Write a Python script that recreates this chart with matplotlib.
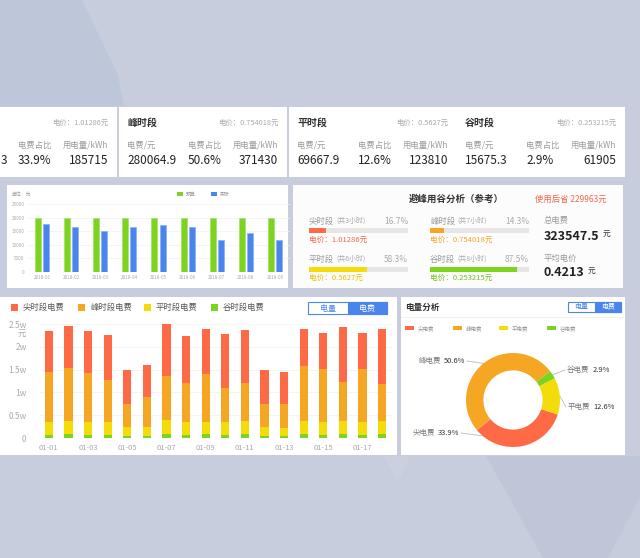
import numpy as np
import matplotlib.pyplot as plt
from matplotlib.patches import Rectangle, Polygon

plt.rcParams['font.family'] = ['Noto Sans CJK SC', 'DejaVu Sans']

W, H = 640, 558

# ---- 数据 ----
# 分时段卡片（第一张卡片只露出右侧部分）
card_names = ['尖时段', '峰时段', '平时段', '谷时段']
card_price = ['1.01286', '0.754018', '0.5627', '0.253215']
card_fee = ['3', '280064.9', '69667.9', '15675.3']
card_ratio = ['33.9%', '50.6%', '12.6%', '2.9%']
card_kwh = ['185715', '371430', '123810', '61905']

# 月度对比
months = ['2018-01', '2018-02', '2018-03', '2018-04', '2018-05',
          '2018-06', '2018-07', '2018-08', '2018-09']
budget = [20000, 20000, 20000, 20000, 20000, 20000, 20000, 20000, 20000]
actual = [17600, 16700, 15200, 16700, 17300, 16400, 11800, 14200, 11800]
month_legend = ['预算', '实际']

# 避峰用谷
seg_hours = [3, 7, 6, 8]
seg_pct = [16.7, 14.3, 58.3, 87.5]
saving = '229963'
total_fee = '323547.5'
avg_price = '0.4213'

# 每日分时电费
days = ['01-%02d' % d for d in range(1, 19)]
fee_valley = [660, 800, 660, 660, 510, 510, 800, 660, 800, 660, 800, 440, 440, 800, 660, 800, 660, 800]
fee_flat = [2920, 3000, 2920, 2850, 1830, 1980, 3150, 2920, 2780, 2920, 2930, 1900, 1830, 2930, 2850, 3000, 2850, 2930]
fee_peak = [10890, 11620, 10600, 9210, 5120, 6570, 9650, 8550, 10460, 7460, 8260, 5120, 5190, 11990, 11620, 8550, 11620, 8110]
fee_sharp = [9070, 9140, 9210, 9870, 7450, 6880, 11350, 10310, 9860, 11840, 11690, 7530, 7010, 8110, 7900, 11990, 7900, 11990]
stack_legend = ['尖时段电费', '峰时段电费', '平时段电费', '谷时段电费']
y_ticks = [0, 5000, 10000, 15000, 20000, 25000]
y_labels = ['0', '0.5w', '1w', '1.5w', '2w', '2.5w']

# 电量分析
pie_names = ['尖电费', '峰电费', '平电费', '谷电费']
pie_pct = [33.9, 50.6, 12.6, 2.9]

RED, ORANGE, YELLOW, GREEN = '#fe6a46', '#f5a623', '#f3dc0a', '#7ed321'
BLUE = '#4a85ee'
seg_colors = [RED, ORANGE, YELLOW, GREEN]
price_colors = ['#f5684c', '#f5a623', '#e3c400', '#72c71c']

fig = plt.figure(figsize=(W / 100, H / 100), dpi=100)
fig.patch.set_facecolor('#c7cddc')
bg = fig.add_axes([0, 0, 1, 1])
bg.set_xlim(0, W)
bg.set_ylim(H, 0)
bg.axis('off')


def ax_px(x0, y0, x1, y1):
    a = fig.add_axes([x0 / W, 1 - y1 / H, (x1 - x0) / W, (y1 - y0) / H])
    a.set_facecolor('none')
    return a


def panel(x0, y0, x1, y1, fc='white'):
    bg.add_patch(Rectangle((x0, y0), x1 - x0, y1 - y0, fc=fc, ec='none', zorder=1))


def txt(x, y, s, size, color='#333333', ha='left', weight='normal', **kw):
    return bg.text(x, y, s, fontsize=size, color=color, ha=ha, va='center',
                   fontweight=weight, zorder=3, **kw)


# 背景多边形
bg.add_patch(Polygon([(0, 0), (82, 0), (118, 75), (124, 106), (0, 106)], fc='#bec7d9', ec='none', zorder=0))
bg.add_patch(Polygon([(486, 456), (640, 456), (640, 558), (543, 558)], fc='#bec6d8', ec='none', zorder=0))
bg.add_patch(Polygon([(608, 558), (640, 497), (640, 558)], fc='#c6ccdb', ec='none', zorder=0))
bg.add_patch(Polygon([(384, 456), (410, 456), (398, 483)], fc='#cbd0de', ec='none', zorder=0))

# ---- 顶部卡片 ----
card_left = [-51, 119, 289, 457]
for i, x0 in enumerate(card_left):
    panel(x0, 107, x0 + 168, 177)
    if i > 0:
        txt(x0 + 8, 123, card_names[i], 7.2, weight='bold')
        txt(x0 + 8, 145, '电费/元', 6, color='#9a9a9a')
        txt(x0 + 8, 161, card_fee[i], 8.5, color='#222222')
    else:
        txt(1, 161, card_fee[i], 8.5, color='#222222')
    txt(x0 + 159, 123, '电价：' + card_price[i] + '元', 5.3, color='#aaaaaa', ha='right')
    txt(x0 + 69, 145, '电费占比', 6, color='#9a9a9a')
    txt(x0 + 159, 145, '用电量/kWh', 6, color='#9a9a9a', ha='right')
    txt(x0 + 69, 161, card_ratio[i], 8.5, color='#222222')
    txt(x0 + 159, 161, card_kwh[i], 8.5, color='#222222', ha='right')

# ---- 月度柱状图 ----
panel(7, 185, 288, 288)
txt(12, 194, '单位：元', 3.5, color='#999999')
for x0, c, lab in zip([177, 211], [GREEN, BLUE], month_legend):
    bg.add_patch(Rectangle((x0, 192), 6, 4, fc=c, ec='none', zorder=3))
    txt(x0 + 9, 194, lab, 3.5, color='#999999')

ma = ax_px(27.5, 204, 289.5, 272)
xm = np.arange(len(months))
ma.bar(xm - 0.138, budget, 0.207, color=GREEN, edgecolor='#a6e36a', linewidth=0.6)
ma.bar(xm + 0.138, actual, 0.207, color=BLUE, edgecolor='#8fb2f5', linewidth=0.6)
ma.set_xlim(-0.5, len(months) - 0.5)
ma.set_ylim(0, 25000)
ma.set_yticks([0, 5000, 10000, 15000, 20000, 25000])
ma.set_xticks(xm)
ma.set_xticklabels(months)
ma.tick_params(length=0, labelsize=3.3, colors='#aaaaaa', pad=2)
ma.yaxis.grid(True, color='#f2f2f2', lw=0.5)
ma.set_axisbelow(True)
for s in ma.spines.values():
    s.set_visible(False)

# ---- 避峰用谷分析 ----
panel(293, 185, 623, 288, fc='#fcfcfc')
txt(456, 199, '避峰用谷分析（参考）', 6.8, color='#333333', ha='center', weight='bold')
txt(535, 199, '使用后省 ' + saving + '元', 6, color='#f5684c')
seg_pos = [(309, 221), (430, 221), (309, 259), (430, 259)]
for i, (x0, y0) in enumerate(seg_pos):
    t = txt(x0, y0, card_names[i], 6, color='#999999')
    bg.annotate('(共%d小时)' % seg_hours[i], xy=(1, 0.5), xycoords=t, xytext=(1.5, 0),
                textcoords='offset points', fontsize=5, color='#aaaaaa', va='center', zorder=3)
    txt(x0 + 99, y0, '%.1f%%' % seg_pct[i], 6, color='#aaaaaa', ha='right')
    pa = ax_px(x0, y0 + 7.5, x0 + 99, y0 + 12.5)
    pa.barh(0, 100, height=1, color='#e6e6e6')
    pa.barh(0, seg_pct[i], height=1, color=seg_colors[i])
    pa.set_xlim(0, 100)
    pa.set_ylim(-0.5, 0.5)
    pa.axis('off')
    txt(x0, y0 + 19, '电价：' + card_price[i] + '元', 5.5, color=price_colors[i])

txt(544, 221, '总电费', 6, color='#999999')
t = txt(544, 236, total_fee, 9, color='#222222', weight='bold')
bg.annotate('元', xy=(1, 0.25), xycoords=t, xytext=(2, 0), textcoords='offset points',
            fontsize=5.5, color='#333333', va='bottom', zorder=3)
txt(544, 258, '平均电价', 6, color='#999999')
t = txt(544, 273, avg_price, 9, color='#222222', weight='bold')
bg.annotate('元', xy=(1, 0.25), xycoords=t, xytext=(2, 0), textcoords='offset points',
            fontsize=5.5, color='#333333', va='bottom', zorder=3)


def toggle(x0, x1, xm_, y0, y1, size):
    bg.add_patch(Rectangle((x0, y0), x1 - x0, y1 - y0, fc='white', ec=BLUE, lw=0.8, zorder=3))
    bg.add_patch(Rectangle((xm_, y0), x1 - xm_, y1 - y0, fc=BLUE, ec=BLUE, lw=0.8, zorder=3))
    txt((x0 + xm_) / 2, (y0 + y1) / 2, '电量', size, color=BLUE, ha='center')
    txt((xm_ + x1) / 2, (y0 + y1) / 2, '电费', size, color='white', ha='center')


# ---- 每日分时电费堆叠图 ----
panel(-1, 297, 397, 455)
for x0, c, lab in zip([11, 78, 144, 211], [RED, ORANGE, YELLOW, GREEN], stack_legend):
    bg.add_patch(Rectangle((x0, 303.5), 7, 7, fc=c, ec='none', zorder=3))
    txt(x0 + 12, 307, lab, 6, color='#555555')
toggle(308, 387, 348, 302, 314, 5.8)

sa = ax_px(39, 324, 392, 438)
xd = np.arange(len(days))
bottom = np.zeros(len(days))
for vals, c in zip([fee_valley, fee_flat, fee_peak, fee_sharp], [GREEN, YELLOW, ORANGE, RED]):
    sa.bar(xd, vals, 0.42, bottom=bottom, color=c, clip_on=False, zorder=2)
    bottom += np.array(vals)
sa.set_xlim(-0.5, len(days) - 0.5)
sa.set_ylim(0, 25000)
sa.set_yticks(y_ticks)
sa.set_yticklabels(y_labels)
sa.set_xticks(xd[::2])
sa.set_xticklabels(days[::2])
sa.tick_params(axis='y', length=0, labelsize=6, colors='#aaaaaa', pad=9)
sa.tick_params(axis='x', length=0, labelsize=5.5, colors='#aaaaaa', pad=4)
sa.yaxis.grid(True, color='#f3f3f3', lw=0.6)
sa.set_axisbelow(True)
for s in sa.spines.values():
    s.set_visible(False)
txt(26, 333, '元', 6, color='#aaaaaa', ha='right')

# ---- 电量分析饼图 ----
panel(401, 297, 625, 455)
txt(405, 307, '电量分析', 6.2, color='#333333', weight='bold')
toggle(568, 621, 595, 302, 312, 5)
bg.plot([401, 625], [317, 317], color='#eeeeee', lw=0.6, zorder=2)
for x0, c, lab in zip([405, 453, 499, 547], seg_colors, pie_names):
    bg.add_patch(Rectangle((x0, 326), 9, 4, fc=c, ec='none', zorder=3))
    txt(x0 + 13, 328, lab, 4, color='#999999')

cx, cy, R = 513, 400, 47
pie_order = [0, 1, 3, 2]
pax = ax_px(cx - 60, cy - 60, cx + 60, cy + 60)
wedges, _ = pax.pie([pie_pct[k] for k in pie_order], colors=[seg_colors[k] for k in pie_order],
                    startangle=-18, counterclock=False, radius=1,
                    wedgeprops=dict(width=0.37, edgecolor='none'))
pax.set_xlim(-60 / R, 60 / R)
pax.set_ylim(-60 / R, 60 / R)
pax.axis('off')

# 标签：文本位置（像素）、引线在扇区上的位置
label_pos = {0: (459, 433, 'right', 0.08), 1: (465, 361, 'right', 0.5),
             2: (568, 407, 'left', 0.5), 3: (567, 370, 'left', 0.5)}
for w, k in zip(wedges, pie_order):
    lx, ly, side, frac = label_pos[k]
    ang = np.deg2rad(w.theta1 + frac * (w.theta2 - w.theta1))
    ex, ey = cx + R * np.cos(ang), cy - R * np.sin(ang)
    if side == 'right':
        p = txt(lx, ly, '%.1f%%' % pie_pct[k], 5.4, color='#333333', ha='right')
        bg.annotate(pie_names[k], xy=(0, 0.5), xycoords=p, xytext=(-2, 0), textcoords='offset points',
                    fontsize=5.4, color='#777777', ha='right', va='center', zorder=3)
        bg.plot([lx + 2, ex], [ly, ey], color='#bbbbbb', lw=0.6, zorder=2)
    else:
        p = txt(lx, ly, pie_names[k], 5.4, color='#777777')
        bg.annotate('%.1f%%' % pie_pct[k], xy=(1, 0.5), xycoords=p, xytext=(2, 0), textcoords='offset points',
                    fontsize=5.4, color='#333333', ha='left', va='center', zorder=3)
        bg.plot([lx - 2, ex], [ly, ey], color='#bbbbbb', lw=0.6, zorder=2)

fig.savefig('out.png', dpi=100, facecolor=fig.get_facecolor())
